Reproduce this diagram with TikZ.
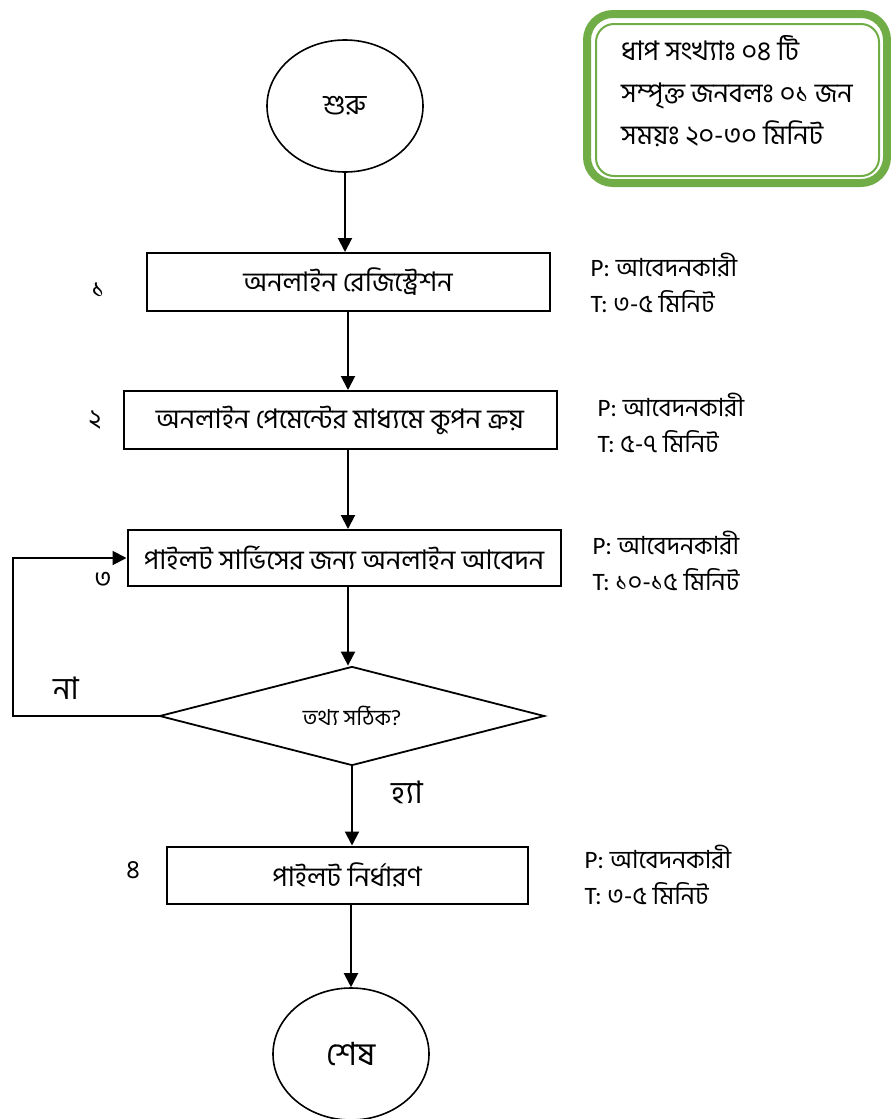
\documentclass[tikz,border=0pt]{standalone}
\usepackage{fontspec}
\setmainfont[Script=Bengali]{Hind Siliguri}
\newfontfamily\pfont{Carlito}
\usetikzlibrary{arrows.meta, positioning, calc, shapes.geometric}

\begin{document}
\begin{tikzpicture}[
  x=1pt, y=-1pt,
  block/.style = {draw, line width=2pt, minimum height=58pt, align=center, font=\fontsize{27}{30}\selectfont},
  term/.style = {draw, line width=1.6pt, ellipse, minimum width=156pt, minimum height=132pt},
  check/.style = {draw, line width=1.8pt, diamond, aspect=3.9, inner sep=0pt, minimum width=385pt, minimum height=99pt, font=\fontsize{22}{24}\selectfont},
  arrow/.style = {line width=2pt, -{Triangle[length=14pt,width=14pt]}},
  step num/.style = {font=\fontsize{26}{28}\selectfont},
  info/.style = {anchor=west, align=left, font=\fontsize{25}{36}\selectfont}
]
  \useasboundingbox (0,0) rectangle (891,1119);

  % Summary box
  \draw[line width=8pt, color={rgb,255:red,112;green,173;blue,71}, rounded corners=26pt]
    (587,14) rectangle (887,183);
  \draw[line width=2pt, color={rgb,255:red,112;green,173;blue,71}, rounded corners=18pt]
    (596,24) rectangle (879,176);
  \node[anchor=north west, align=left, inner sep=0pt, font=\fontsize{27}{42}\selectfont] (summary) at (621,35) {
    ধাপ সংখ্যাঃ ০৪ টি\\
    সম্পৃক্ত জনবলঃ ০১ জন\\
    সময়ঃ ২০-৩০ মিনিট
  };

  % Start
  \node[term, font=\fontsize{28}{30}\selectfont] (start) at (345,106) {শুরু};

  % Steps
  \node[block, minimum width=403pt] (reg) at (348,282) {অনলাইন রেজিস্ট্রেশন};
  \node[block, minimum width=433pt] (pay) at (340,420) {অনলাইন পেমেন্টের মাধ্যমে কুপন ক্রয়};
  \node[block, minimum width=433pt, minimum height=56pt] (apply) at (344,558) {পাইলট সার্ভিসের জন্য অনলাইন আবেদন};
  \node[check] (valid) at (352,716) {তথ্য সঠিক?};
  \node[block, minimum width=361pt, minimum height=57pt] (pilot) at (347,875) {পাইলট নির্ধারণ};

  % End
  \node[term, font=\fontsize{32}{34}\selectfont] (finish) at (351,1054) {শেষ};

  % Step numbers
  \node[step num] (n1) at (98,290) {১};
  \node[step num] (n2) at (95,420) {২};
  \node[step num] (n3) at (103,580) {৩};
  \node[step num] (n4) at (133,870) {৪};

  % Person / time
  \node[info] (pt1) at (587,283) {{\pfont P:} আবেদনকারী\\{\pfont T:} ৩-৫ মিনিট};
  \node[info] (pt2) at (594,423) {{\pfont P:} আবেদনকারী\\{\pfont T:} ৫-৭ মিনিট};
  \node[info] (pt3) at (589,561) {{\pfont P:} আবেদনকারী\\{\pfont T:} ১০-১৫ মিনিট};
  \node[info] (pt4) at (581,875) {{\pfont P:} আবেদনকারী\\{\pfont T:} ৩-৫ মিনিট};

  % Flow
  \draw[arrow] (start.south) -- (start.south |- reg.north);
  \draw[arrow] (reg.south) -- (reg.south |- pay.north);
  \draw[arrow] (reg.south |- pay.south) -- (reg.south |- apply.north);
  \draw[arrow] (reg.south |- apply.south) -- (reg.south |- valid.north);
  \draw[arrow] (valid.south) -- (valid.south |- pilot.north);
  \draw[arrow] (finish.north |- pilot.south) -- (finish.north);

  % Loop back
  \coordinate (back) at (13,716);
  \draw[arrow] (valid.west) -- (back) |- (apply.west);
  \node[font=\fontsize{31}{34}\selectfont] (no) at (66,688) {না};
  \node[font=\fontsize{31}{34}\selectfont] (yes) at (407,792) {হ্যা};

\end{tikzpicture}
\end{document}
